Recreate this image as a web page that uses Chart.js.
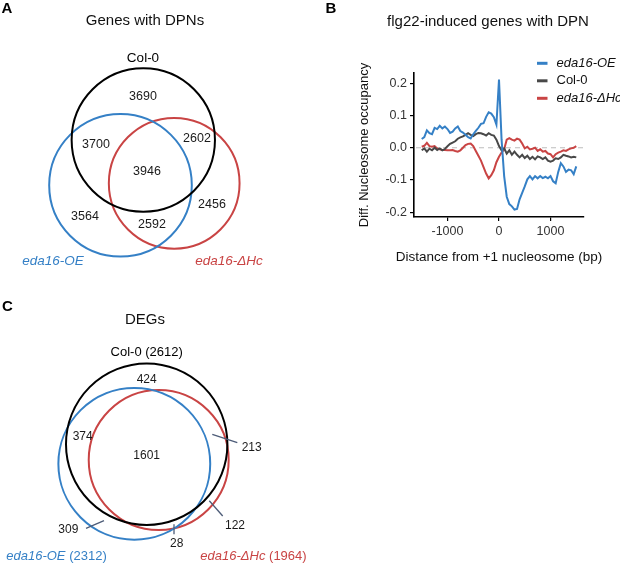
<!DOCTYPE html>
<html><head><meta charset="utf-8">
<script src="https://cdn.jsdelivr.net/npm/chart.js@4.4.1/dist/chart.umd.min.js"></script>
<style>
html,body{margin:0;padding:0;background:#fff;}
#wrap{position:relative;width:620px;height:563px;overflow:hidden;background:#fff;}
.panel{position:absolute;}
canvas{display:block;}
</style></head><body>
<div id="wrap">
<div class="panel" style="left:0;top:0;"><canvas id="cA" width="310" height="290"></canvas></div>
<div class="panel" style="left:310px;top:0;"><canvas id="cB" width="310" height="290"></canvas></div>
<div class="panel" style="left:0;top:290px;"><canvas id="cC" width="310" height="273"></canvas></div>
</div>
<script>
// ---------------- DATA ----------------
const setNames = ['Col-0', 'eda16-OE', 'eda16-ΔHc'];
const setItalic = [false, true, true];
// region order: Col-0 only, Col-0∩OE, Col-0∩ΔHc, all three, OE only, OE∩ΔHc, ΔHc only
const regionMembership = [[0], [0, 1], [0, 2], [0, 1, 2], [1], [1, 2], [2]];
const dpnRegionCounts = [3690, 3700, 2602, 3946, 3564, 2592, 2456];
const degRegionCounts = [424, 374, 213, 1601, 309, 28, 122];

const distanceBp = [-1500,-1450,-1400,-1350,-1300,-1250,-1200,-1150,-1100,-1050,-1000,-950,-900,-850,-800,-750,-700,-650,-600,-550,-500,-450,-400,-350,-300,-250,-200,-150,-100,-50,0,50,100,150,200,250,300,350,400,450,500,550,600,650,700,750,800,850,900,950,1000,1050,1100,1150,1200,1250,1300,1350,1400,1450,1500];
const oeOccupancy = [0.027,0.033,0.054,0.045,0.042,0.062,0.058,0.068,0.060,0.066,0.058,0.046,0.050,0.060,0.066,0.052,0.047,0.040,0.033,0.029,0.042,0.052,0.062,0.074,0.076,0.096,0.110,0.106,0.095,0.072,0.212,0.025,-0.088,-0.152,-0.175,-0.182,-0.192,-0.190,-0.160,-0.140,-0.120,-0.098,-0.088,-0.098,-0.088,-0.095,-0.088,-0.094,-0.090,-0.095,-0.088,-0.104,-0.110,-0.075,-0.048,-0.058,-0.075,-0.068,-0.070,-0.082,-0.058];
const colOccupancy = [-0.008,-0.002,-0.012,-0.003,-0.008,0.000,-0.007,-0.002,-0.008,-0.004,0.005,0.012,0.016,0.020,0.028,0.032,0.035,0.040,0.045,0.040,0.036,0.042,0.046,0.045,0.042,0.038,0.045,0.040,0.038,0.025,0.005,-0.008,-0.002,-0.018,-0.008,-0.022,-0.012,-0.022,-0.030,-0.022,-0.032,-0.025,-0.035,-0.028,-0.036,-0.027,-0.030,-0.035,-0.030,-0.040,-0.043,-0.040,-0.033,-0.035,-0.030,-0.022,-0.025,-0.027,-0.030,-0.028,-0.030];
const hcOccupancy = [0.003,0.006,0.015,0.005,0.003,0.005,-0.002,-0.005,-0.007,-0.007,-0.008,-0.008,-0.007,-0.010,-0.012,-0.008,0.000,0.008,0.012,0.013,0.005,-0.010,-0.025,-0.040,-0.060,-0.080,-0.095,-0.085,-0.070,-0.045,-0.028,-0.015,-0.005,0.025,0.030,0.025,0.022,0.028,0.025,0.013,-0.002,0.003,-0.005,-0.003,0.000,-0.010,-0.005,-0.012,-0.010,-0.018,-0.020,-0.030,-0.020,-0.015,-0.012,-0.008,-0.010,-0.005,-0.002,0.000,0.005];
const xTickValues = [-1000, 0, 1000];
const yTickValues = [-0.2, -0.1, 0.0, 0.1, 0.2];

// ---------------- STYLE ----------------
const FONT = "'Liberation Sans', Arial, Helvetica, sans-serif";
Chart.defaults.font.family = FONT;
Chart.defaults.color = '#222';
const COLORS = ['#000000', '#3580c6', '#c94444'];
const LINE_COLORS = ['#3580c6', '#484848', '#c94444'];
const LEADER = '#4d5c78';

function setTotals(counts) {
  return setNames.map((_, s) => counts.reduce((a, c, i) => regionMembership[i].includes(s) ? a + c : a, 0));
}

const panelTextPlugin = {
  id: 'panelText',
  afterDraw(chart, args, opts) {
    const ctx = chart.ctx;
    (opts.items || []).forEach(it => {
      ctx.save();
      ctx.font = it.font;
      ctx.fillStyle = it.color || '#111';
      ctx.textAlign = it.align || 'center';
      ctx.textBaseline = 'middle';
      const x = it.centreOnArea ? (chart.chartArea.left + chart.chartArea.right) / 2 : it.x;
      ctx.fillText(it.text, x, it.y);
      ctx.restore();
    });
  }
};

// ---------------- VENN ----------------
const vennLabelPlugin = {
  id: 'vennLabels',
  afterDatasetsDraw(chart, args, o) {
    const ctx = chart.ctx, xs = chart.scales.x, ys = chart.scales.y;
    const P = (p) => [xs.getPixelForValue(p[0]), ys.getPixelForValue(p[1])];
    ctx.save();
    ctx.strokeStyle = LEADER; ctx.lineWidth = 1.3;
    (o.leaders || []).forEach(l => {
      if (!l) return;
      const a = P([l[0], l[1]]), b = P([l[2], l[3]]);
      ctx.beginPath(); ctx.moveTo(a[0], a[1]); ctx.lineTo(b[0], b[1]); ctx.stroke();
    });
    ctx.restore();
    ctx.save();
    ctx.font = o.numFont; ctx.fillStyle = '#1a1a1a';
    ctx.textAlign = 'center'; ctx.textBaseline = 'middle';
    o.counts.forEach((c, i) => {
      const p = P(o.regionPos[i]);
      ctx.fillText(String(c), p[0], p[1]);
    });
    ctx.restore();
    const totals = setTotals(o.counts);
    setNames.forEach((name, s) => {
      const segs = [{ t: name, it: setItalic[s] }];
      if (o.showTotals) segs.push({ t: ' (' + totals[s] + ')', it: false });
      ctx.save();
      ctx.fillStyle = COLORS[s]; ctx.textBaseline = 'middle'; ctx.textAlign = 'left';
      let w = 0;
      segs.forEach(g => { ctx.font = (g.it ? 'italic ' : '') + o.setFontSize + 'px ' + FONT; g.w = ctx.measureText(g.t).width; w += g.w; });
      const p = P(o.setPos[s]);
      let x = p[0] - w / 2;
      segs.forEach(g => { ctx.font = (g.it ? 'italic ' : '') + o.setFontSize + 'px ' + FONT; ctx.fillText(g.t, x, p[1]); x += g.w; });
      ctx.restore();
    });
  }
};

function venn(id, counts, spec) {
  const canvas = document.getElementById(id);
  const W = canvas.width, H = canvas.height;
  const totals = setTotals(counts);
  const datasets = setNames.map((name, s) => ({
    label: name,
    data: [{ x: spec.centres[s][0], y: spec.centres[s][1], r: 1 }],
    borderColor: COLORS[s],
    backgroundColor: 'rgba(0,0,0,0)',
    borderWidth: 2,
    hoverRadius: 0,
    clip: false
  }));
  const chart = new Chart(canvas, {
    type: 'bubble',
    data: { datasets },
    options: {
      responsive: false, animation: false, devicePixelRatio: 1,
      layout: { padding: 0, autoPadding: false },
      events: [],
      scales: {
        x: { type: 'linear', min: 0, max: W, display: false },
        y: { type: 'linear', min: 0, max: H, reverse: true, display: false }
      },
      plugins: {
        legend: { display: false }, tooltip: { enabled: false },
        vennLabels: {
          counts, regionPos: spec.regionPos, setPos: spec.setPos, leaders: spec.leaders,
          numFont: spec.numFont, setFontSize: spec.setFontSize, showTotals: spec.showTotals
        },
        panelText: { items: spec.texts }
      }
    },
    plugins: [vennLabelPlugin, panelTextPlugin]
  });
  // circle area proportional to the set size; radius converted to pixels through the x scale
  const xs = chart.scales.x;
  chart.data.datasets.forEach((ds, s) => {
    const cx = spec.centres[s][0];
    const rr = spec.areaScale * Math.sqrt(totals[s]);
    ds.data[0].r = Math.abs(xs.getPixelForValue(cx + rr) - xs.getPixelForValue(cx));
  });
  chart.update('none');
  return chart;
}

venn('cA', dpnRegionCounts, {
  centres: [[143.3, 140], [120.5, 185.3], [174.2, 183.3]],
  areaScale: 0.607,
  regionPos: [[143, 97], [96, 145], [197, 139], [147, 172], [85, 217], [152, 225], [212, 205]],
  setPos: [[143, 58], [53, 261], [229, 261]],
  leaders: [],
  numFont: '12.5px ' + FONT, setFontSize: 13.5, showTotals: false,
  texts: [
    { text: 'A', x: 7, y: 9, font: 'bold 15px ' + FONT, color: '#000' },
    { text: 'Genes with DPNs', x: 145, y: 21, font: '15px ' + FONT, color: '#111' }
  ]
});

venn('cC', degRegionCounts, {
  centres: [[146.7, 154.2], [134.3, 173.8], [158.7, 170]],
  areaScale: 1.579,
  regionPos: [[146.7, 89.3], [82.7, 146.7], [251.7, 157.3], [146.7, 165.7], [68.3, 240], [176.7, 253.3], [235, 236]],
  setPos: [[146.7, 62], [56.5, 266.7], [253.5, 266.7]],
  leaders: [null, null, [212.3, 144.3, 237.3, 152.7], null, [86, 238.3, 104, 230.7], [174, 234.3, 174, 244.3], [209.3, 210.7, 222.7, 226]],
  numFont: '12px ' + FONT, setFontSize: 13, showTotals: true,
  texts: [
    { text: 'C', x: 7.5, y: 17, font: 'bold 15px ' + FONT, color: '#000' },
    { text: 'DEGs', x: 145, y: 30, font: '15px ' + FONT, color: '#111' }
  ]
});

// ---------------- LINE CHART ----------------
const zeroLinePlugin = {
  id: 'zeroLine',
  beforeDatasetsDraw(chart) {
    const ctx = chart.ctx, a = chart.chartArea, y = chart.scales.y.getPixelForValue(0);
    ctx.save();
    ctx.strokeStyle = '#bdbdbd'; ctx.lineWidth = 1.2; ctx.setLineDash([5, 4]);
    ctx.beginPath(); ctx.moveTo(a.left + 2, y); ctx.lineTo(a.right, y); ctx.stroke();
    ctx.restore();
  }
};
const lineLegendPlugin = {
  id: 'lineLegend',
  afterDraw(chart, args, o) {
    const ctx = chart.ctx;
    chart.data.datasets.forEach((ds, i) => {
      const y = o.y0 + i * o.dy;
      ctx.save();
      ctx.strokeStyle = ds.borderColor; ctx.lineWidth = 3;
      ctx.beginPath(); ctx.moveTo(o.x0, y); ctx.lineTo(o.x0 + o.len, y); ctx.stroke();
      ctx.font = (ds.italicLabel ? 'italic ' : '') + '13px ' + FONT;
      ctx.fillStyle = '#111'; ctx.textBaseline = 'middle'; ctx.textAlign = 'left';
      ctx.fillText(ds.label, o.tx, y);
      ctx.restore();
    });
  }
};

const seriesLabels = ['eda16-OE', 'Col-0', 'eda16-ΔHc'];
const seriesValues = [oeOccupancy, colOccupancy, hcOccupancy];
const seriesItalic = [true, false, true];

new Chart(document.getElementById('cB'), {
  type: 'line',
  data: {
    datasets: seriesLabels.map((lab, i) => ({
      label: lab,
      italicLabel: seriesItalic[i],
      data: distanceBp.map((x, j) => ({ x, y: seriesValues[i][j] })),
      borderColor: LINE_COLORS[i],
      borderWidth: 2,
      pointRadius: 0,
      tension: 0,
      fill: false
    }))
  },
  options: {
    responsive: false, animation: false, devicePixelRatio: 1, events: [],
    layout: { padding: { left: 47, right: 36, top: 73, bottom: 0 } },
    scales: {
      x: {
        type: 'linear', min: -1650, max: 1650,
        afterBuildTicks: (ax) => { ax.ticks = xTickValues.map(v => ({ value: v })); },
        afterFit: (s) => { s.height = 73; },
        ticks: { callback: (v) => String(v), color: '#333', font: { size: 12.5 }, padding: 3, maxRotation: 0, autoSkip: false },
        grid: { display: true, drawOnChartArea: false, drawTicks: true, tickLength: 4, color: '#000', lineWidth: 1.2 },
        border: { display: true, color: '#000', width: 1.6 },
        title: { display: false }
      },
      y: {
        type: 'linear', min: -0.215, max: 0.232,
        afterBuildTicks: (ax) => { ax.ticks = yTickValues.map(v => ({ value: v })); },
        afterFit: (s) => { s.width = 57; },
        ticks: { callback: (v) => Number(v).toFixed(1), color: '#333', font: { size: 12.5 }, padding: 3, autoSkip: false },
        grid: { display: true, drawOnChartArea: false, drawTicks: true, tickLength: 4, color: '#000', lineWidth: 1.2 },
        border: { display: true, color: '#000', width: 1.6 },
        title: { display: true, text: 'Diff. Nucleosome occupancy', color: '#111', font: { size: 13 }, padding: { top: 0, bottom: 0 } }
      }
    },
    plugins: {
      legend: { display: false }, tooltip: { enabled: false },
      lineLegend: { x0: 227, len: 10.5, tx: 246.5, y0: 63.3, dy: 17.5 },
      panelText: { items: [
        { text: 'B', x: 21, y: 9, font: 'bold 15px ' + FONT, color: '#000' },
        { text: 'flg22-induced genes with DPN', x: 178, y: 22, font: '15px ' + FONT, color: '#111' },
        { text: 'Distance from +1 nucleosome (bp)', centreOnArea: true, y: 257, font: '13.5px ' + FONT, color: '#111' }
      ] }
    }
  },
  plugins: [zeroLinePlugin, lineLegendPlugin, panelTextPlugin]
});
</script>
</body></html>
